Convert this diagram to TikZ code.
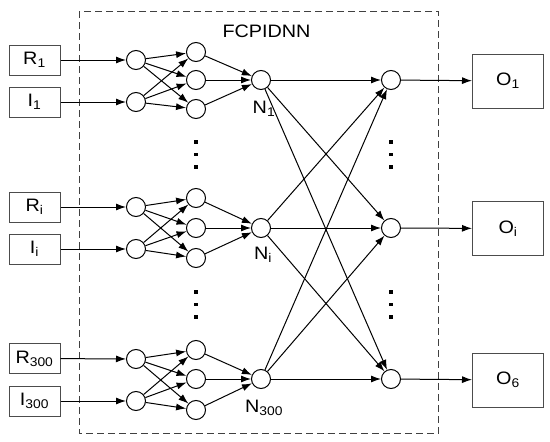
\documentclass[tikz,border=0pt]{standalone}
\usepackage{fontspec}
\setmainfont{Liberation Sans}[FakeStretch=1.1]
\usetikzlibrary{arrows.meta,calc}
\begin{document}
\begin{tikzpicture}[x=1pt,y=-1pt,
  neuron/.style={circle,draw,line width=1pt,minimum size=19pt,inner sep=0pt},
  inbox/.style={draw=black!70,line width=1pt,minimum width=51pt,minimum height=30pt,inner sep=0pt,font=\fontsize{18}{21}\selectfont},
  outbox/.style={draw=black!70,line width=1pt,minimum width=71pt,minimum height=54pt,inner sep=0pt,font=\fontsize{18}{21}\selectfont},
  lab/.style={font=\fontsize{18}{21}\selectfont,inner sep=0pt},
  conn/.style={line width=1pt,-{Latex[length=10pt,width=7pt]}},
  dotsq/.style={fill=black,minimum size=3.8pt,inner sep=0pt}
]
\useasboundingbox (0,0) rectangle (550,442);
\draw[line width=1pt,black!75,dash pattern=on 7pt off 4pt] (79,11) rectangle (438.5,433);
\node[lab] (title) at (266.5,31.5) {FCPIDNN};

% group 1
\node[inbox] (r1) at (34.5,60) {R\textsubscript{1}};
\node[inbox] (i1) at (34.5,102) {I\textsubscript{1}};
\node[neuron] (a1) at (136,60) {};
\node[neuron] (b1) at (136,102) {};
\node[neuron] (c1) at (196,52) {};
\node[neuron] (d1) at (196,80) {};
\node[neuron] (e1) at (196,109) {};
\node[neuron] (n1) at (261,80) {};
\node[lab] (ln1) at (264,109) {N\textsubscript{1}};

% group i
\node[inbox] (r2) at (34.5,207) {R\textsubscript{i}};
\node[inbox] (i2) at (34.5,249) {I\textsubscript{i}};
\node[neuron] (a2) at (136,207) {};
\node[neuron] (b2) at (136,249) {};
\node[neuron] (c2) at (196,198) {};
\node[neuron] (d2) at (196,228) {};
\node[neuron] (e2) at (196,258) {};
\node[neuron] (n2) at (261,228) {};
\node[lab] (ln2) at (263,255) {N\textsubscript{i}};

% group 300
\node[inbox] (r3) at (34.5,358.5) {R\textsubscript{300}};
\node[inbox] (i3) at (34.5,401) {I\textsubscript{300}};
\node[neuron] (a3) at (136,359) {};
\node[neuron] (b3) at (136,401) {};
\node[neuron] (c3) at (196,350) {};
\node[neuron] (d3) at (196,379) {};
\node[neuron] (e3) at (196,410) {};
\node[neuron] (n3) at (261,379) {};
\node[lab] (ln3) at (264,408) {N\textsubscript{300}};

% output layer
\node[neuron] (h1) at (391,80) {};
\node[neuron] (h2) at (391,228) {};
\node[neuron] (h3) at (391,379) {};
\node[outbox] (o1) at (508,81) {O\textsubscript{1}};
\node[outbox] (o2) at (508,228.5) {O\textsubscript{i}};
\node[outbox] (o3) at (508,380) {O\textsubscript{6}};

% dots
\foreach \x/\n in {196/l,391/r}{
  \foreach \y/\k in {142/a,154.5/b,167/c,292/d,304.5/e,317/f}{
    \node[dotsq] (dot\n\k) at (\x,\y) {};
  }
}

% connections
\foreach \g in {1,2,3}{
  \draw[conn] (r\g) -- (a\g);
  \draw[conn] (i\g) -- (b\g);
  \foreach \s in {a,b}{
    \foreach \t in {c,d,e}{
      \draw[conn] (\s\g) -- (\t\g);
    }
  }
  \foreach \t in {c,d,e}{
    \draw[conn] (\t\g) -- (n\g);
  }
  \foreach \h in {1,2,3}{
    \draw[conn] (n\g) -- (h\h);
  }
  \draw[conn] (h\g) -- (o\g);
}
\end{tikzpicture}
\end{document}
